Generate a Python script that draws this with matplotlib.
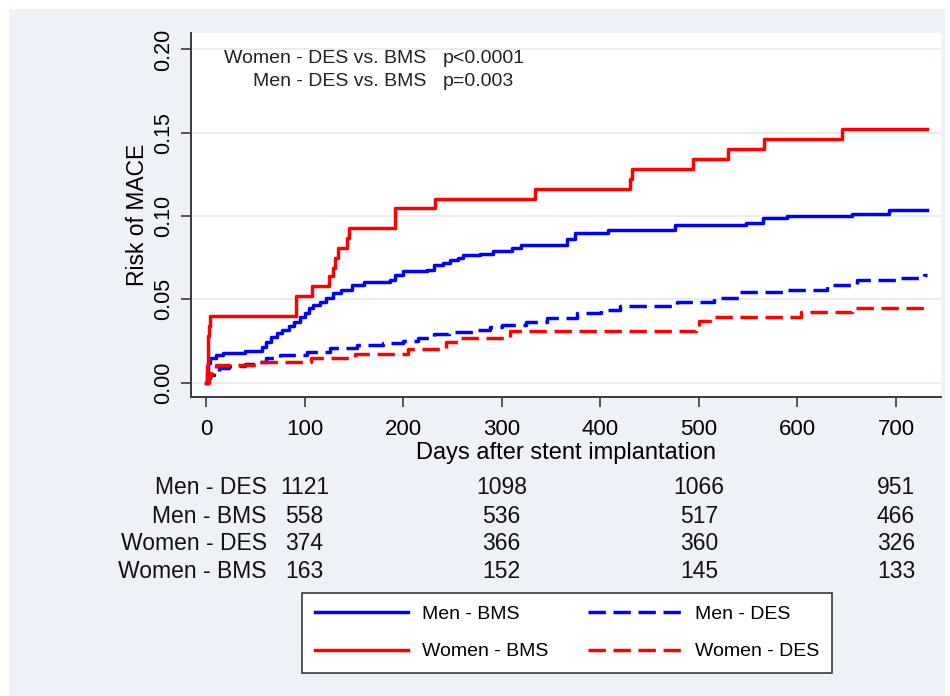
import matplotlib
matplotlib.use("Agg")
import matplotlib.pyplot as plt
import matplotlib.transforms as mtransforms
from matplotlib.patches import Rectangle

plt.rcParams['font.family'] = ['Liberation Sans', 'DejaVu Sans']

# Kaplan-Meier style cumulative risk (step points)
wbms_days = [0, 1, 2, 3, 4, 91, 108, 125, 129, 131, 134, 143, 145, 192, 232,
             334, 430, 432, 494, 530, 566, 645, 731]
wbms_risk = [0, 0.010, 0.028, 0.034, 0.040, 0.052, 0.058, 0.064, 0.069, 0.075,
             0.081, 0.087, 0.093, 0.105, 0.110, 0.116, 0.122, 0.128, 0.134,
             0.140, 0.146, 0.152, 0.152]

mbms_days = [0, 1, 2, 4, 10, 17, 40, 57, 61, 66, 72, 77, 84, 89, 95, 100, 105,
             109, 116, 122, 129, 137, 148, 160, 187, 192, 200, 224, 231, 240,
             248, 256, 261, 278, 291, 310, 320, 366, 374, 408, 476, 548, 565,
             589, 655, 693, 731]
mbms_risk = [0, 0.006, 0.0117, 0.0147, 0.0167, 0.0175, 0.019, 0.0215, 0.0245,
             0.0275, 0.0295, 0.0315, 0.034, 0.0365, 0.0395, 0.042, 0.0445,
             0.0465, 0.0485, 0.0505, 0.0535, 0.0555, 0.0585, 0.0605, 0.0615,
             0.0645, 0.067, 0.0675, 0.0705, 0.072, 0.0735, 0.075, 0.0765,
             0.077, 0.079, 0.0805, 0.0825, 0.086, 0.0895, 0.0915, 0.0945,
             0.096, 0.0985, 0.0998, 0.1015, 0.1035, 0.1035]

mdes_days = [0, 2, 4, 8, 13, 23, 40, 51, 61, 75, 102, 126, 153, 180, 200, 215,
             231, 247, 271, 288, 300, 325, 346, 376, 401, 420, 478, 515, 542,
             589, 630, 660, 700, 728, 731]
mdes_risk = [0, 0.003, 0.0045, 0.0065, 0.0087, 0.0097, 0.011, 0.0125, 0.0145,
             0.0165, 0.0185, 0.0205, 0.0225, 0.0238, 0.025, 0.027, 0.029,
             0.0304, 0.0315, 0.0335, 0.0345, 0.0365, 0.039, 0.0415, 0.0435,
             0.0459, 0.0485, 0.0505, 0.0545, 0.0555, 0.0585, 0.0615, 0.063,
             0.0645, 0.0645]

wdes_days = [0, 3, 5, 7, 10, 55, 107, 151, 205, 243, 258, 308, 497, 500, 511,
             604, 655, 731]
wdes_risk = [0, 0.004, 0.006, 0.0075, 0.0105, 0.0125, 0.0145, 0.017, 0.020,
             0.0245, 0.027, 0.031, 0.0335, 0.037, 0.0395, 0.0425, 0.045, 0.045]

# numbers at risk
risk_times = [100, 300, 500, 700]
risk_groups = ['Men - DES', 'Men - BMS', 'Women - DES', 'Women - BMS']
risk_counts = [[1121, 1098, 1066, 951],
               [558, 536, 517, 466],
               [374, 366, 360, 326],
               [163, 152, 145, 133]]

W, H = 950, 696
fig = plt.figure(figsize=(W / 100, H / 100), dpi=100, facecolor='white')
fig.patches.append(Rectangle((9 / W, 0), (945 - 9) / W, 1 - 9 / H,
                             transform=fig.transFigure, facecolor='#eef1f7',
                             edgecolor='none', zorder=-10))

ax = fig.add_axes([191 / W, 1 - 397 / H, (941 - 191) / W, (397 - 33) / H])
ax.set_facecolor('white')

lw = 2.5
dash = (5, 2.2)
l_mbms, = ax.plot(mbms_days, mbms_risk, drawstyle='steps-post',
                  color='#0000ff', lw=lw, label='Men - BMS')
l_mdes, = ax.plot(mdes_days, mdes_risk, drawstyle='steps-post',
                  color='#0000ff', lw=lw, dashes=dash, label='Men - DES')
l_wbms, = ax.plot(wbms_days, wbms_risk, drawstyle='steps-post',
                  color='#ff0000', lw=lw, label='Women - BMS')
l_wdes, = ax.plot(wdes_days, wdes_risk, drawstyle='steps-post',
                  color='#ff0000', lw=lw, dashes=dash, label='Women - DES')

ax.set_xlim(-15.2, 745.7)
ax.set_ylim(-0.0087, 0.2099)
ax.set_xticks([0, 100, 200, 300, 400, 500, 600, 700])
ax.set_yticks([0, 0.05, 0.10, 0.15, 0.20])
ax.set_yticklabels(['0.00', '0.05', '0.10', '0.15', '0.20'])
ax.grid(axis='y', color='#e4e9f1', lw=1.2)
ax.set_axisbelow(True)

for s in ['top', 'right']:
    ax.spines[s].set_visible(False)
for s in ['left', 'bottom']:
    ax.spines[s].set_color('#3a3a3a')
    ax.spines[s].set_linewidth(1.4)

ax.tick_params(axis='both', color='#3a3a3a', length=7, width=1.2)
ax.tick_params(axis='x', labelsize=16, pad=9)
ax.tick_params(axis='y', labelsize=15.5, pad=5)
for t in ax.get_yticklabels():
    t.set_rotation(90)
    t.set_va('center')

ax.set_xlabel('Days after stent implantation', fontsize=17, labelpad=1)
ax.set_ylabel('Risk of MACE', fontsize=16.5, labelpad=3)

# p-value annotations
ax.text(0.3133, 0.9286, 'Women - DES vs. BMS', transform=ax.transAxes,
        ha='right', va='center', fontsize=14, color='#222222')
ax.text(0.336, 0.9286, 'p<0.0001', transform=ax.transAxes,
        ha='left', va='center', fontsize=14, color='#222222')
ax.text(0.3133, 0.8654, 'Men - DES vs. BMS', transform=ax.transAxes,
        ha='right', va='center', fontsize=14, color='#222222')
ax.text(0.336, 0.8654, 'p=0.003', transform=ax.transAxes,
        ha='left', va='center', fontsize=14, color='#222222')

# numbers-at-risk table
blend = mtransforms.blended_transform_factory(ax.transData, fig.transFigure)
row_y = [488, 516.5, 544, 571]
for name, counts, yp in zip(risk_groups, risk_counts, row_y):
    fig.text(266.7 / W, 1 - yp / H, name, ha='right', va='center',
             fontsize=16.5, color='#111111')
    for t, n in zip(risk_times, counts):
        ax.text(t, 1 - yp / H, str(n), transform=blend, ha='center',
                va='center', fontsize=16.5, color='#111111', clip_on=False)

# column-wise fill: first column Men-BMS / Women-BMS, second the DES lines
leg = ax.legend(handles=[l_mbms, l_wbms, l_mdes, l_wdes],
                loc='upper left', ncol=2, mode='expand',
                bbox_to_anchor=(302 / W, 1 - 672 / H, (832 - 302) / W, 79 / H),
                bbox_transform=fig.transFigure, fontsize=14, handlelength=4.8,
                handletextpad=0.7, labelspacing=1.0, borderpad=0.65,
                borderaxespad=0, fancybox=False, framealpha=1,
                edgecolor='#3a3a3a')
leg.get_frame().set_linewidth(1.2)

fig.savefig('out.png', dpi=100, facecolor=fig.get_facecolor())
